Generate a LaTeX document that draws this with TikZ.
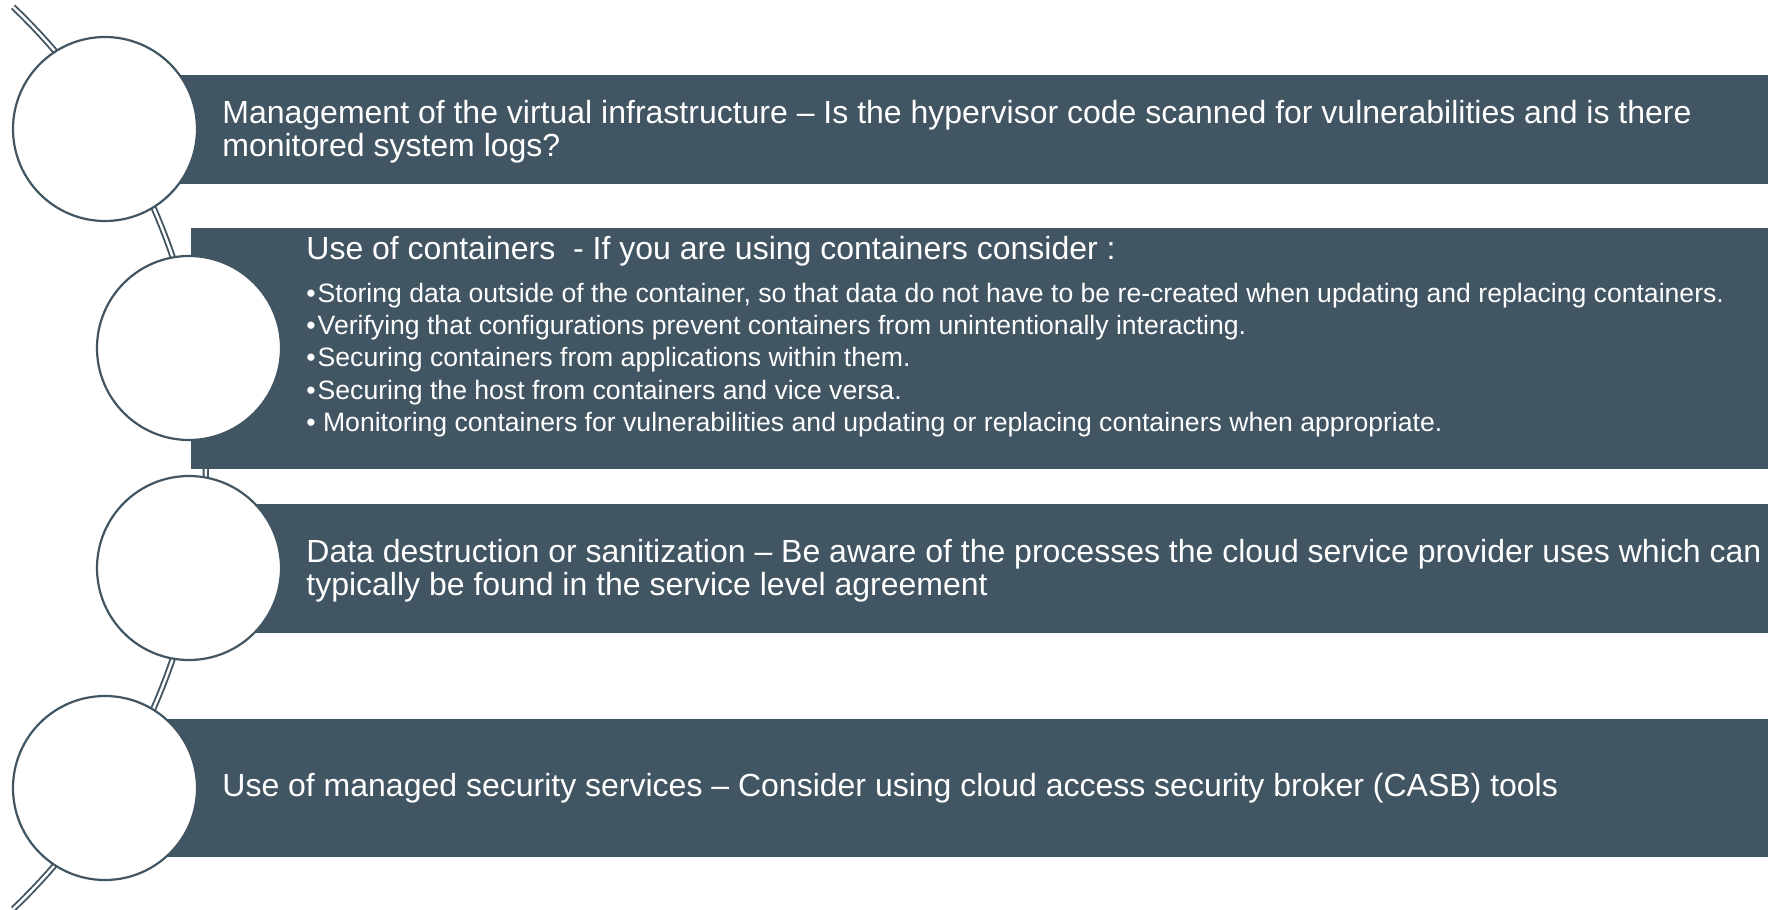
\documentclass[tikz,border=0pt]{standalone}
\usepackage{fontspec}
\setmainfont{Liberation Sans}
\usepackage{xcolor}

\definecolor{slate}{HTML}{425563}

\tikzset{
  band/.style={fill=slate},
  ring/.style={circle, draw=slate, fill=white, line width=1.1pt,
               minimum size=92pt, inner sep=0pt},
  bandtext/.style={text=white, align=left, inner sep=0pt,
                   font=\fontsize{16}{16.4}\selectfont},
  bullettext/.style={text=white, align=left, inner sep=0pt,
                     font=\fontsize{13.3}{16.2}\selectfont},
}
\newcommand{\bul}{•\kern1pt}

\begin{document}
\begin{tikzpicture}[x=0.5pt, y=-0.5pt]

        \useasboundingbox (0,0) rectangle (1768,910);

        %% ── Spine (double arc behind everything) ──────────────────────────
        \draw[slate, line width=0.95pt, double=white, double distance=1.2pt]
            plot[domain=-46.3:46.3, samples=80]
            ({-418+624*cos(\x)}, {458-624*sin(\x)});

        %% ── Bands ─────────────────────────────────────────────────────────
        \fill[band] (105,75)  rectangle (1768,184);
        \fill[band] (191,228) rectangle (1768,469);
        \fill[band] (189,504) rectangle (1768,633);
        \fill[band] (105,719) rectangle (1768,857);

        %% ── Circles ───────────────────────────────────────────────────────
        \node[ring] (c1) at (105,129) {};
        \node[ring] (c2) at (189,348) {};
        \node[ring] (c3) at (189,568) {};
        \node[ring] (c4) at (105,788) {};

        %% ── Texts ─────────────────────────────────────────────────────────
        \node[bandtext, anchor=west] (t1) at (222,132)
            {Management of the virtual infrastructure – Is the hypervisor code scanned for vulnerabilities and is there\\
             monitored system logs?};

        \node[bandtext, anchor=west] (t2) at (306,251)
            {Use of containers\ \ - If you are using containers consider :};
        \node[bullettext, anchor=west] (t2list) at (306,360)
            {\bul Storing data outside of the container, so that data do not have to be re-created when updating and replacing containers.\\
             \bul Verifying that configurations prevent containers from unintentionally interacting.\\
             \bul Securing containers from applications within them.\\
             \bul Securing the host from containers and vice versa.\\
             • Monitoring containers for vulnerabilities and updating or replacing containers when appropriate.};

        \node[bandtext, anchor=west] (t3) at (306,571)
            {Data destruction or sanitization – Be aware of the processes the cloud service provider uses which can\\
             typically be found in the service level agreement};

        \node[bandtext, anchor=west] (t4) at (222,788)
            {Use of managed security services – Consider using cloud access security broker (CASB) tools};

\end{tikzpicture}
\end{document}
